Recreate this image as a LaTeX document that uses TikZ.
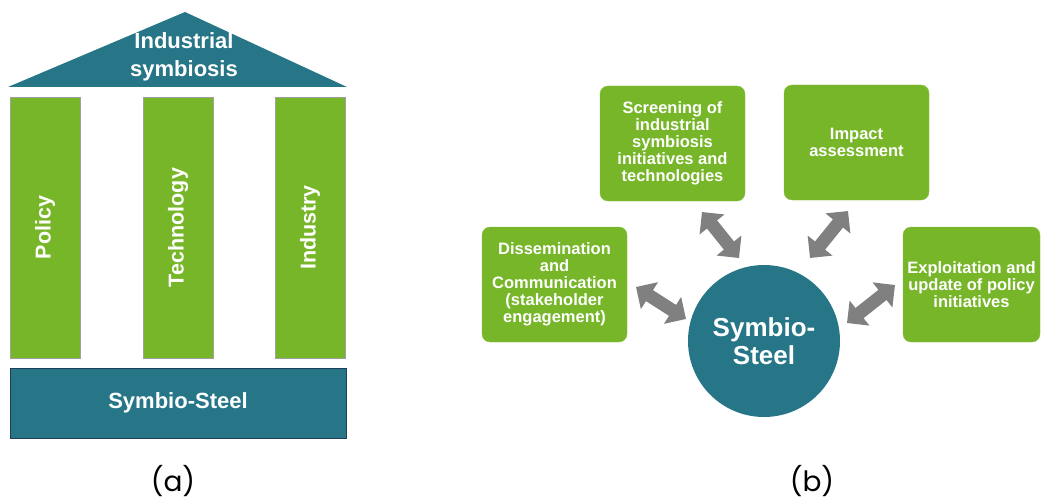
\documentclass[tikz,border=0pt]{standalone}
\usepackage{fontspec}
\setmainfont{Liberation Sans}
\newfontfamily\capfont{Poppins}
\usetikzlibrary{arrows.meta}
\definecolor{tealcol}{RGB}{38,118,136}
\definecolor{greencol}{RGB}{118,182,40}
\definecolor{arrcol}{RGB}{128,128,128}
\definecolor{navycol}{RGB}{30,62,92}
\tikzset{pillar/.style={draw=gray!75,fill=greencol,rotate=90,minimum width=261,minimum height=70,inner sep=0pt,text=white,font=\bfseries\fontsize{21.5}{24}\selectfont}}
\tikzset{base/.style={draw=navycol,fill=tealcol,minimum width=336,minimum height=70,inner sep=0pt,text=white,font=\bfseries\fontsize{22}{24}\selectfont}}
\tikzset{gbox/.style={rounded corners=8,draw=greencol!85!white,fill=greencol,minimum width=145,minimum height=115,inner sep=0pt,align=center,text=white,font=\bfseries\fontsize{16.5}{17}\selectfont}}
\tikzset{hub/.style={circle,fill=tealcol,minimum size=152,inner sep=0pt,align=center,text=white,font=\bfseries\fontsize{26}{28}\selectfont}}
\tikzset{bigarrow/.style={arrcol,line width=13pt,{Triangle[width=31pt,length=16pt]}-{Triangle[width=31pt,length=16pt]}}}
\tikzset{caption/.style={font=\capfont\fontsize{28}{30}\selectfont}}

\begin{document}
\begin{tikzpicture}[x=1pt,y=-1pt]
\useasboundingbox (0,0) rectangle (1041,500);

% (a) the temple
\coordinate (apex) at (185,12);
\coordinate (roofl) at (8,87);
\coordinate (roofr) at (347,87);
\fill [tealcol] (roofl) -- (apex) -- (roofr) -- cycle;
\node [align=center,text=white,font=\bfseries\fontsize{22}{28}\selectfont] (roof) at (184,57) {Industrial\\symbiosis};

\node [pillar] (policy) at (45,227.5) {Policy};
\node [pillar] (techn) at (178,227.5) {Technology};
\node [pillar] (indus) at (310,227.5) {Industry};

\node [base] (steel) at (178,403) {Symbio-Steel};

\node [caption] (capa) at (173,481) {(a)};

% (b) the hub
\node [hub] (sym) at (764,341) {Symbio-\\Steel};

\node [gbox] (screen) at (672.5,143.5) {Screening of\\industrial\\symbiosis\\initiatives and\\technologies};
\node [gbox] (impact) at (856.5,142.5) {Impact\\assessment};
\node [gbox] (dissem) at (554.5,284.5) {Dissemination\\and\\Communication\\(stakeholder\\engagement)};
\node [gbox,minimum width=137] (exploit) at (971.5,284.5) {Exploitation and\\update of policy\\initiatives};

\coordinate (a1s) at (702,212);
\coordinate (a1e) at (739,258);
\coordinate (a2s) at (636,287);
\coordinate (a2e) at (686,319);
\coordinate (a3s) at (848,211);
\coordinate (a3e) at (810,258);
\coordinate (a4s) at (895,285);
\coordinate (a4e) at (847,323);

\draw [bigarrow] (a1s) -- (a1e);
\draw [bigarrow] (a2s) -- (a2e);
\draw [bigarrow] (a3s) -- (a3e);
\draw [bigarrow] (a4s) -- (a4e);

\node [caption] (capb) at (812,481) {(b)};
\end{tikzpicture}
\end{document}
